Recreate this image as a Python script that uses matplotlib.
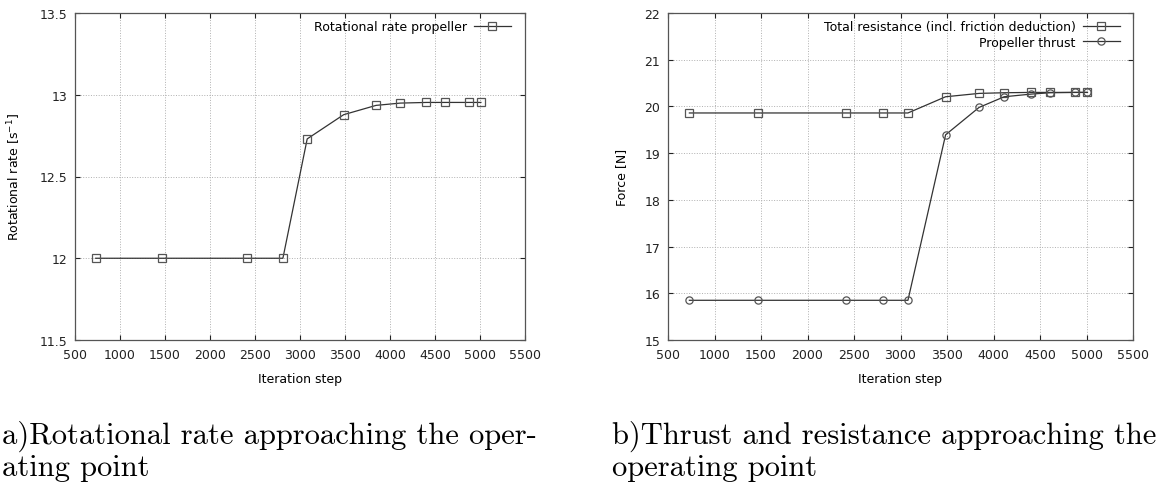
import matplotlib
matplotlib.use('Agg')
import matplotlib.pyplot as plt
from matplotlib.ticker import FuncFormatter, MultipleLocator

plt.rcParams.update({
    'font.family': 'DejaVu Sans',
    'font.size': 9,
    'xtick.direction': 'in',
    'ytick.direction': 'in',
    'xtick.top': True,
    'ytick.right': True,
})

# iteration steps where the operating point was re-evaluated
steps = [730, 1470, 2410, 2810, 3080, 3485, 3845, 4115, 4405, 4610, 4875, 5010]

# a) rotational rate [1/s]
rot_rate = [12.0, 12.0, 12.0, 12.0, 12.73, 12.878, 12.935, 12.949, 12.953,
            12.953, 12.953, 12.953]

# b) forces [N]
resistance = [19.86, 19.86, 19.86, 19.86, 19.86, 20.207, 20.279, 20.293,
              20.30, 20.30, 20.30, 20.30]
thrust = [15.85, 15.85, 15.85, 15.85, 15.85, 19.393, 19.979, 20.207,
          20.264, 20.293, 20.30, 20.30]

captions = [('a)Rotational rate approaching the oper-', 'ating point'),
            ('b)Thrust and resistance approaching the', 'operating point')]

LINE = dict(color='#333333', linewidth=0.9, markersize=5.2,
            markerfacecolor='none', markeredgecolor='#555555',
            markeredgewidth=0.9)

W, H = 1158, 485


def style_axes(ax, anchor):
    ax.set_xlim(500, 5500)
    ax.xaxis.set_major_locator(MultipleLocator(500))
    ax.grid(True, color='#b0b0b0', linestyle=':', linewidth=0.7)
    ax.tick_params(length=3.6, width=0.8, colors='#222222')
    ax.tick_params(axis='x', pad=5.5)
    ax.tick_params(axis='y', pad=5.5)
    for sp in ax.spines.values():
        sp.set_color('#555555')
        sp.set_linewidth(0.9)
    ax.set_xlabel('Iteration step', labelpad=8.5)
    ax.yaxis.set_major_formatter(FuncFormatter(lambda v, _: f'{v:g}'))
    ax.legend(loc='upper right', bbox_to_anchor=anchor, borderaxespad=0,
              frameon=False, markerfirst=False, handlelength=3.0,
              handletextpad=0.55, labelspacing=0.22, fontsize=9)


fig = plt.figure(figsize=(W / 100, H / 100), dpi=100)

ax1 = fig.add_axes([75 / W, 1 - 341 / H, 450 / W, 327 / H])
ax1.plot(steps, rot_rate, marker='s', label='Rotational rate propeller', **LINE)
ax1.set_ylim(11.5, 13.5)
ax1.yaxis.set_major_locator(MultipleLocator(0.5))
ax1.set_ylabel('Rotational rate [s$^{-1}$]', labelpad=12)
style_axes(ax1, (0.98, 0.994))

ax2 = fig.add_axes([668 / W, 1 - 341 / H, 465 / W, 327 / H])
ax2.plot(steps, resistance, marker='s',
         label='Total resistance (incl. friction deduction)', **LINE)
ax2.plot(steps, thrust, marker='o', label='Propeller thrust', **LINE)
ax2.set_ylim(15, 22)
ax2.yaxis.set_major_locator(MultipleLocator(1))
ax2.set_ylabel('Force [N]', labelpad=11.5)
style_axes(ax2, (0.983, 0.994))

# sub-figure captions, two baselines each
for x0, (l1, l2) in zip([2, 612], captions):
    fig.text(x0 / W, 1 - 444 / H, l1, family='cmr10', fontsize=22,
             va='baseline', ha='left')
    fig.text(x0 / W, 1 - 476 / H, l2, family='cmr10', fontsize=22,
             va='baseline', ha='left')

fig.savefig('out.png', dpi=100)
